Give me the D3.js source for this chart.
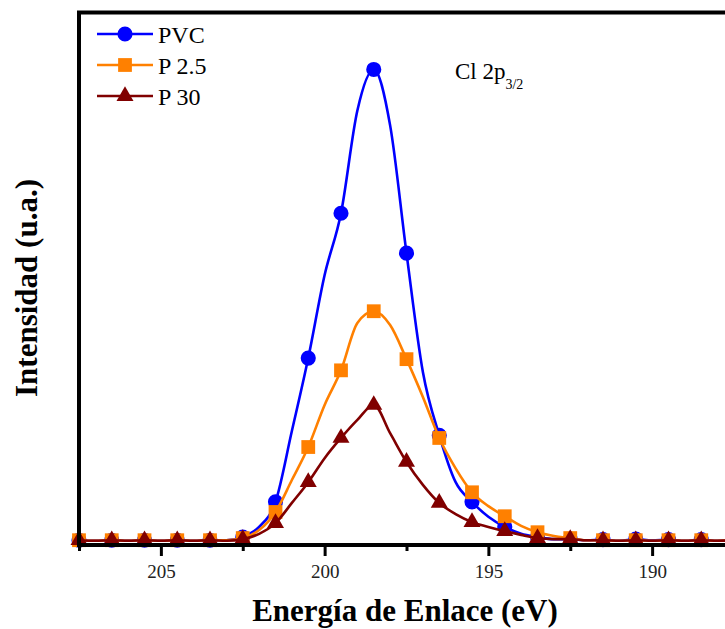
<!DOCTYPE html>
<html>
<head>
<meta charset="utf-8">
<script src="https://cdn.jsdelivr.net/npm/d3@7"></script>
<style>
  body { margin: 0; background: #fff; }
  text { font-family: "Liberation Serif", "Times New Roman", serif; }
</style>
</head>
<body>
<div id="xps_cl2p"></div>
<script>
// binding energy (eV), 0.5 eV steps
const energy = [207.5, 207, 206.5, 206, 205.5, 205, 204.5, 204, 203.5, 203,
  202.5, 202, 201.5, 201, 200.5, 200, 199.5, 199, 198.5, 198,
  197.5, 197, 196.5, 196, 195.5, 195, 194.5, 194, 193.5, 193,
  192.5, 192, 191.5, 191, 190.5, 190, 189.5, 189, 188.5, 188, 187.5];

// intensities (a.u.)
const pvc = [0.09, 0.08, 0.09, 0.08, 0.09, 0.08, 0.09, 0.08, 0.09, 0.09,
  0.15, 0.34, 0.81, 2.14, 3.51, 5.07, 6.23, 8.16, 8.93, 7.88,
  5.48, 3.25, 2.06, 1.18, 0.81, 0.53, 0.34, 0.21, 0.15, 0.11,
  0.11, 0.09, 0.10, 0.08, 0.11, 0.09, 0.10, 0.08, 0.10, 0.08, 0.09];
const p25 = [0.09, 0.08, 0.09, 0.08, 0.09, 0.08, 0.09, 0.08, 0.09, 0.09,
  0.13, 0.28, 0.62, 1.22, 1.84, 2.63, 3.28, 4.17, 4.39, 4.13,
  3.49, 2.78, 2.01, 1.44, 0.99, 0.73, 0.54, 0.36, 0.24, 0.17,
  0.13, 0.09, 0.09, 0.08, 0.09, 0.08, 0.09, 0.08, 0.09, 0.08, 0.09];
const p30 = [0.09, 0.08, 0.09, 0.08, 0.09, 0.08, 0.09, 0.08, 0.09, 0.08,
  0.11, 0.21, 0.41, 0.79, 1.18, 1.63, 2.01, 2.35, 2.63, 2.10,
  1.56, 1.13, 0.79, 0.58, 0.43, 0.34, 0.26, 0.19, 0.13, 0.11,
  0.11, 0.09, 0.09, 0.08, 0.09, 0.08, 0.09, 0.08, 0.09, 0.08, 0.09];

const seriesNames = ["PVC", "P 2.5", "P 30"];
const xTicks = [205, 200, 195, 190];
const xMinorTicks = [207.5, 202.5, 197.5, 192.5, 187.5];

const margin = {top: 12.5, right: 0, left: 79, bottom: 84};
const width = 655, height = 532.5;

const svg = d3.select("#xps_cl2p")
    .append("svg")
    .attr("width", 725)
    .attr("height", 629)
    .append("g")
    .attr("transform", `translate(${margin.left}, ${margin.top})`);

const x = d3.scaleLinear().domain([207.5, 187.5]).range([0, width]);
const y = d3.scaleLinear().domain([0, 10]).range([height, 0]);

const series = [
  {name: seriesNames[0], values: pvc, color: "#0000ff", symbol: d3.symbolCircle, size: 180},
  {name: seriesNames[1], values: p25, color: "#ff8000", symbol: d3.symbolSquare, size: 190},
  {name: seriesNames[2], values: p30, color: "#800000", symbol: d3.symbolTriangle, size: 125}
];

const line = d3.line()
    .x(d => x(d.e))
    .y(d => y(d.v))
    .curve(d3.curveMonotoneX);

series.forEach(function(s) {
  const pts = energy.map((e, i) => ({e: e, v: s.values[i]}));
  svg.append("path")
    .datum(pts)
    .attr("fill", "none")
    .attr("stroke", s.color)
    .attr("stroke-width", 2.6)
    .attr("d", line);

  // markers only on the half-eV points
  svg.append("g")
    .selectAll("path")
    .data(pts.filter(d => d.e % 1 !== 0))
    .join("path")
      .attr("transform", d => `translate(${x(d.e)}, ${y(d.v)})`)
      .attr("d", d3.symbol().type(s.symbol).size(s.size))
      .attr("fill", s.color);
});

// X axis, major ticks
const xAxis = svg.append("g")
    .attr("transform", `translate(0, ${height})`)
    .call(d3.axisBottom(x).tickValues(xTicks).tickSize(11).tickFormat(d3.format("d")));
xAxis.select(".domain").remove();
xAxis.selectAll(".tick line").attr("stroke", "#000").attr("stroke-width", 3);
xAxis.selectAll(".tick text")
    .attr("y", 33).attr("dy", null)
    .style("font-family", "'Liberation Serif', serif")
    .style("font-size", "19px")
    .attr("fill", "#222");

// minor ticks
const xMinor = svg.append("g")
    .attr("transform", `translate(0, ${height})`)
    .call(d3.axisBottom(x).tickValues(xMinorTicks).tickSize(6).tickFormat(""));
xMinor.select(".domain").remove();
xMinor.selectAll(".tick line").attr("stroke", "#000").attr("stroke-width", 3);

// frame
svg.append("line").attr("x1", 0).attr("x2", 0).attr("y1", 0).attr("y2", height + 1.5)
  .attr("stroke", "#000").attr("stroke-width", 4);
svg.append("line").attr("x1", -2).attr("x2", width).attr("y1", 0).attr("y2", 0)
  .attr("stroke", "#000").attr("stroke-width", 4);
svg.append("line").attr("x1", -2).attr("x2", width).attr("y1", height).attr("y2", height)
  .attr("stroke", "#000").attr("stroke-width", 4);

// axis labels
svg.append("text")
  .attr("x", 405 - margin.left)
  .attr("y", 621 - margin.top)
  .style("text-anchor", "middle")
  .style("font-weight", "bold")
  .style("font-size", "31px")
  .text("Energía de Enlace (eV)");

svg.append("text")
  .attr("transform", `translate(${37 - margin.left}, ${288 - margin.top}) rotate(-90)`)
  .style("text-anchor", "middle")
  .style("font-weight", "bold")
  .style("font-size", "31px")
  .text("Intensidad (u.a.)");

// peak annotation
const ann = svg.append("text")
  .attr("x", 455 - margin.left)
  .attr("y", 79 - margin.top)
  .style("font-size", "23px");
ann.append("tspan").text("Cl 2p");
ann.append("tspan").attr("dy", 10).style("font-size", "14px").text("3/2");

// legend
const legend = svg.append("g")
  .attr("transform", `translate(${97 - margin.left}, ${34 - margin.top})`);
series.forEach(function(s, i) {
  const row = legend.append("g").attr("transform", `translate(0, ${i * 31})`);
  row.append("line")
    .attr("x1", 0).attr("x2", 56).attr("y1", 0).attr("y2", 0)
    .attr("stroke", s.color).attr("stroke-width", 2.6);
  row.append("path")
    .attr("transform", "translate(28, 0)")
    .attr("d", d3.symbol().type(s.symbol).size(s.size))
    .attr("fill", s.color);
  row.append("text")
    .attr("x", 61)
    .attr("y", 9)
    .style("font-size", "24px")
    .text(s.name);
});
</script>
</body>
</html>
